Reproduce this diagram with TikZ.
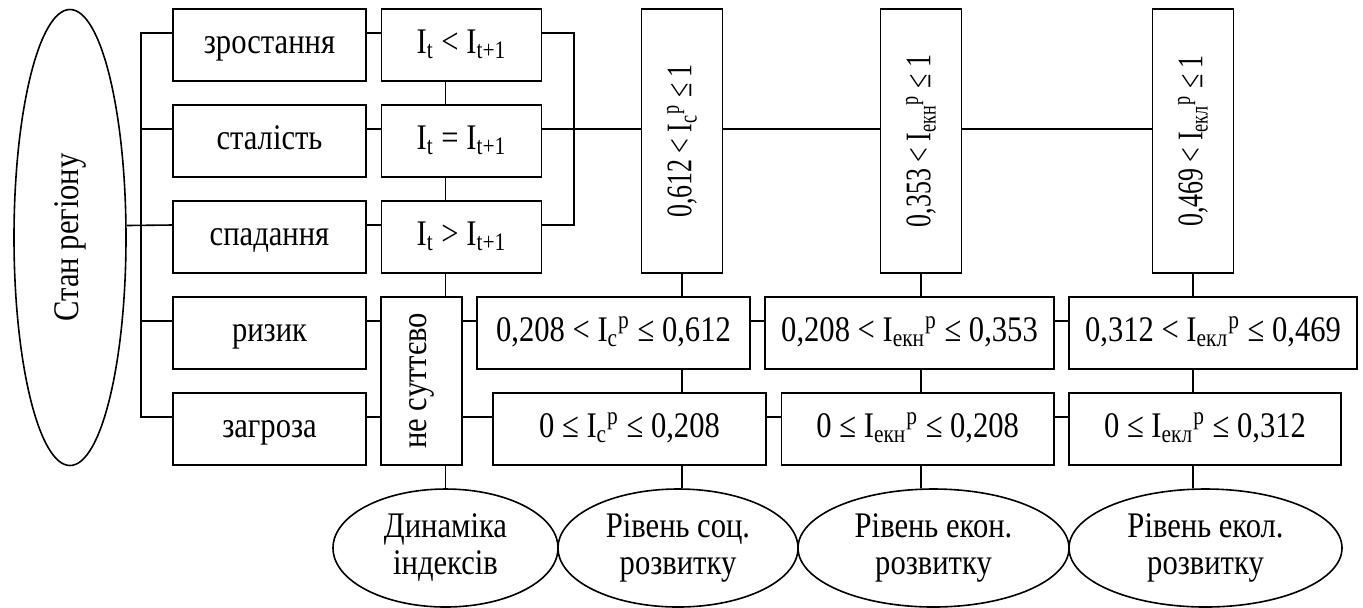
\documentclass[tikz,border=0pt]{standalone}
\usepackage{fontspec}
\setmainfont{Liberation Serif}[FakeStretch=0.85]
\newfontfamily\tallfont{Liberation Serif}[FakeStretch=0.72]
\usetikzlibrary{shapes.geometric}

\begin{document}
\begin{tikzpicture}[
  x=0.5pt,y=-0.5pt,
  font=\fontsize{18}{18.5}\selectfont,
  box/.style={draw,line width=0.8pt,align=center,minimum height=36pt,inner sep=1pt,text height=13pt,text depth=5pt},
  tall/.style={draw,line width=0.8pt,minimum width=40.5pt,inner sep=1pt},
  level/.style={tall,minimum height=132pt,font={\tallfont\fontsize{18}{18.5}\selectfont}},
  oval/.style={draw,ellipse,line width=0.8pt,align=center,inner sep=0pt,minimum height=59pt},
  link/.style={line width=0.8pt},
  tap/.style={yshift=6pt}
]
\useasboundingbox (0,0) rectangle (1363,607);

\node[oval,minimum width=56pt,minimum height=228pt] (stan) at (70,237.5) {\rotatebox{90}{Стан регіону}};

% states of the region
\node[box,minimum width=96.5pt] (grow) at (269.5,45) {зростання};
\node[box,minimum width=96.5pt] (const) at (269.5,141) {сталість};
\node[box,minimum width=96.5pt] (fall) at (269.5,237) {спадання};
\node[box,minimum width=96.5pt] (risk) at (269.5,333) {ризик};
\node[box,minimum width=96.5pt] (threat) at (269.5,429) {загроза};

\node[box,minimum width=80pt] (gt) at (461.5,45) {I\textsubscript{t} < I\textsubscript{t+1}};
\node[box,minimum width=80pt] (eq) at (461.5,141) {I\textsubscript{t} = I\textsubscript{t+1}};
\node[box,minimum width=80pt] (lt) at (461.5,237) {I\textsubscript{t} > I\textsubscript{t+1}};
\node[tall,minimum height=84pt] (minor) at (421.5,381) {\rotatebox{90}{не суттєво}};

% index levels
\node[level] (soc) at (682,141) {\rotatebox{90}{0,612 < I\textsubscript{с}\textsuperscript{p} ≤ 1}};
\node[level] (ekn) at (921,141) {\rotatebox{90}{0,353 < I\textsubscript{екн}\textsuperscript{p} ≤ 1}};
\node[level] (ekl) at (1193,141) {\rotatebox{90}{0,469 < I\textsubscript{екл}\textsuperscript{p} ≤ 1}};

\node[box,minimum width=136.5pt] (socm) at (613.5,333) {0,208 < I\textsubscript{с}\textsuperscript{p} ≤ 0,612};
\node[box,minimum width=144.5pt] (eknm) at (909.5,333) {0,208 < I\textsubscript{екн}\textsuperscript{p} ≤ 0,353};
\node[box,minimum width=144pt] (eklm) at (1213,333) {0,312 < I\textsubscript{екл}\textsuperscript{p} ≤ 0,469};
\node[box,minimum width=136.5pt] (socl) at (629.5,429) {0 ≤ I\textsubscript{с}\textsuperscript{p} ≤ 0,208};
\node[box,minimum width=136.25pt] (eknl) at (917.75,429) {0 ≤ I\textsubscript{екн}\textsuperscript{p} ≤ 0,208};
\node[box,minimum width=136pt] (ekll) at (1205,429) {0 ≤ I\textsubscript{екл}\textsuperscript{p} ≤ 0,312};

\node[oval,minimum width=112.5pt] (dyn) at (445.5,548) {Динаміка\\індексів};
\node[oval,minimum width=120pt] (lvsoc) at (678,548) {Рівень соц.\\розвитку};
\node[oval,minimum width=135.5pt] (lvekn) at (933.5,548) {Рівень екон.\\розвитку};
\node[oval,minimum width=136.5pt] (lvekl) at (1205.5,548) {Рівень екол.\\розвитку};

% bus on the left
\draw[link] ([tap]stan.east) -- ([tap]fall.west);
\draw[link] ([tap]grow.west) -- ++(-31.5,0) |- ([tap]threat.west);
\draw[link] ([tap]const.west) -- ++(-31.5,0);
\draw[link] ([tap]risk.west) -- ++(-31.5,0);

\draw[link] ([tap]grow.east) -- ([tap]gt.west);
\draw[link] ([tap]const.east) -- ([tap]eq.west);
\draw[link] ([tap]fall.east) -- ([tap]lt.west);
\draw[link] ([tap]risk.east) -- ([tap]risk.east -| minor.west);
\draw[link] ([tap]threat.east) -- ([tap]threat.east -| minor.west);
\draw[link] ([tap]socm.west -| minor.east) -- ([tap]socm.west);
\draw[link] ([tap]socl.west -| minor.east) -- ([tap]socl.west);

\draw[link] ([tap]gt.east) -- ++(31.5,0) |- ([tap]lt.east);
\draw[link] ([tap]eq.east) -- ([tap]soc.west);
\draw[link] ([tap]soc.east) -- ([tap]ekn.west);
\draw[link] ([tap]ekn.east) -- ([tap]ekl.west);
\draw[link] ([tap]socm.east) -- ([tap]eknm.west);
\draw[link] ([tap]eknm.east) -- ([tap]eklm.west);
\draw[link] ([tap]socl.east) -- ([tap]eknl.west);
\draw[link] ([tap]eknl.east) -- ([tap]ekll.west);

% verticals
\draw[link] (dyn.north |- gt.south) -- (dyn.north |- eq.north);
\draw[link] (dyn.north |- eq.south) -- (dyn.north |- lt.north);
\draw[link] (dyn.north |- lt.south) -- (dyn.north |- minor.north);
\draw[link] (dyn.north |- minor.south) -- (dyn.north);

\draw[link] (soc.south) -- (soc.south |- socm.north);
\draw[link] (soc.south |- socm.south) -- (soc.south |- socl.north);
\draw[link] (soc.south |- socl.south) -- (soc.south |- lvsoc.north);
\draw[link] (ekn.south) -- (ekn.south |- eknm.north);
\draw[link] (ekn.south |- eknm.south) -- (ekn.south |- eknl.north);
\draw[link] (ekn.south |- eknl.south) -- (ekn.south |- lvekn.north);
\draw[link] (ekl.south) -- (ekl.south |- eklm.north);
\draw[link] (ekl.south |- eklm.south) -- (ekl.south |- ekll.north);
\draw[link] (ekl.south |- ekll.south) -- (ekl.south |- lvekl.north);
\end{tikzpicture}
\end{document}
